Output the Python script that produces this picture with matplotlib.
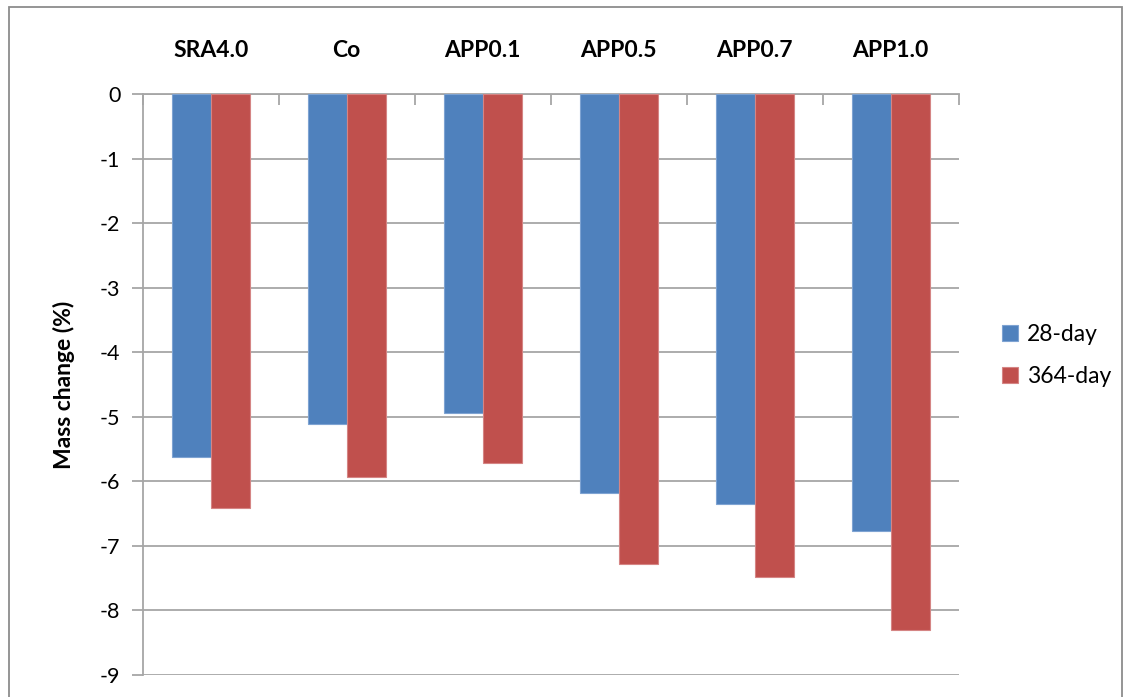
import matplotlib.pyplot as plt
from matplotlib.patches import Rectangle
import numpy as np

### Data ###
mixes = ['SRA4.0', 'Co', 'APP0.1', 'APP0.5', 'APP0.7', 'APP1.0']
day28 = [-5.63, -5.11, -4.95, -6.19, -6.36, -6.78]
day364 = [-6.41, -5.93, -5.72, -7.28, -7.48, -8.31]
series_names = ['28-day', '364-day']
series_colors = ['#4F81BD', '#C0504D']

plt.rcParams['font.family'] = ['Lato', 'DejaVu Sans']
plt.rcParams['axes.unicode_minus'] = False

### Plotting ###
fig = plt.figure(figsize=(11.32, 6.97), dpi=100)
ax = fig.add_axes([0.126, 0.032, 0.721, 0.833])

x = np.arange(len(mixes))
w = 0.2857   # gap width 150% -> two bars in 3.5 slots
ax.bar(x - w/2, day28, w, color=series_colors[0], edgecolor='#7EA3D2',
       linewidth=0.8, label=series_names[0], zorder=3)
ax.bar(x + w/2, day364, w, color=series_colors[1], edgecolor='#D58584',
       linewidth=0.8, label=series_names[1], zorder=3)

ax.set_xlim(-0.5, len(mixes) - 0.5)
ax.set_ylim(-9, 0)
ax.set_yticks(np.arange(-9, 1, 1))
ax.yaxis.grid(True, color='#A6A6A6', linewidth=1.3, zorder=0)
ax.set_axisbelow(True)

# category axis sits on the zero line at the top
ax.xaxis.tick_top()
ax.set_xticks(x)
ax.set_xticklabels(mixes, fontsize=16.5, fontweight='bold')
ax.set_xticks(np.arange(-0.5, len(mixes)), minor=True)
ax.tick_params(axis='x', which='major', length=0, pad=24)
ax.tick_params(axis='x', which='minor', direction='in', length=8,
               color='#A6A6A6', width=1.3, top=True, bottom=False)
ax.tick_params(axis='y', which='major', direction='out', length=8,
               color='#A6A6A6', width=1.3, labelsize=15.5, pad=8)

for s in ['right', 'bottom']:
    ax.spines[s].set_visible(False)
for s in ['left', 'top']:
    ax.spines[s].set_color('#A6A6A6')
    ax.spines[s].set_linewidth(1.3)

ax.set_ylabel('Mass change (%)', fontsize=16.5, fontweight='bold', labelpad=18)

fig.legend(loc='center left', bbox_to_anchor=(0.867, 0.49), frameon=False,
           fontsize=16.5, handlelength=0.7, handleheight=0.7,
           handletextpad=0.4, labelspacing=0.95)

# chart frame
fig.patches.append(Rectangle((0.008, -0.05), 0.983, 1.04,
                             transform=fig.transFigure, fill=False,
                             edgecolor='#8C8C8C', linewidth=1.3))

plt.savefig('out.png', dpi=100)
